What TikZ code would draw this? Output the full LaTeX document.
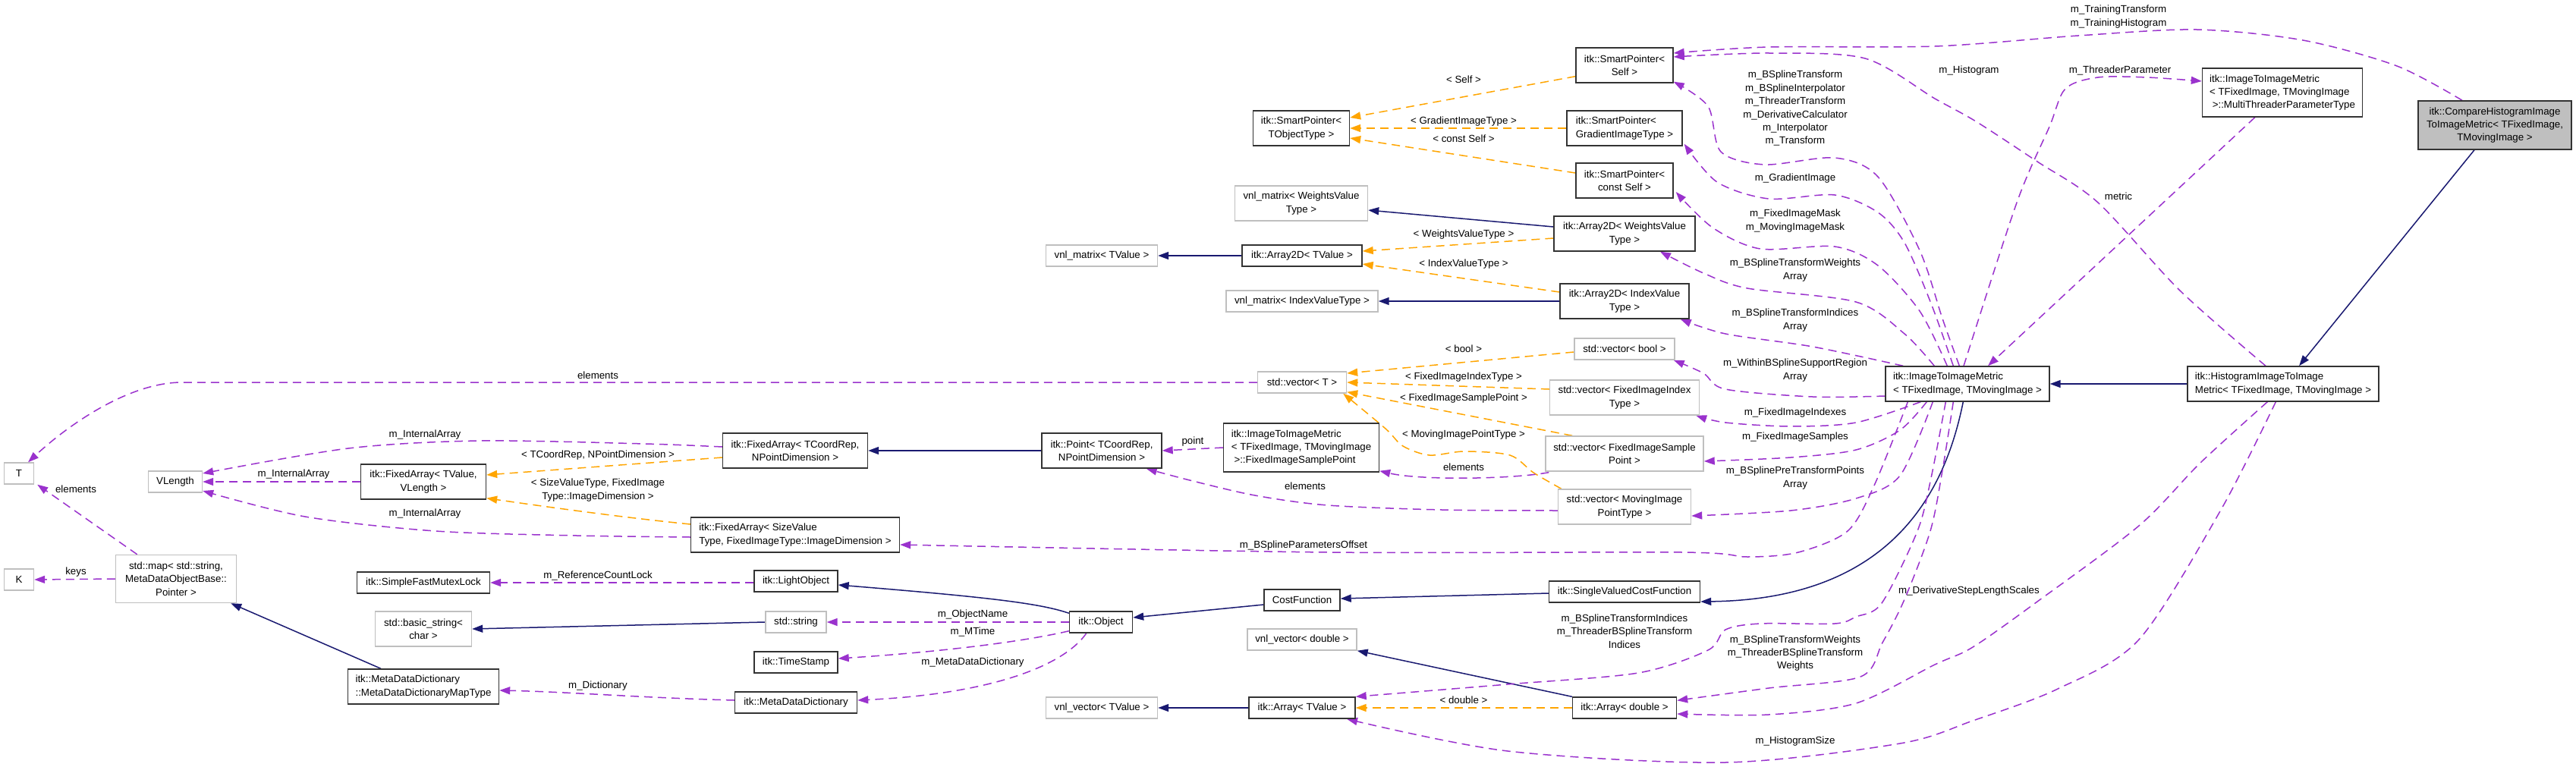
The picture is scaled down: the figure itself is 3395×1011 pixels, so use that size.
\documentclass[tikz,border=0pt]{standalone}
\usepackage{fontspec}
\setmainfont{Liberation Sans}
\usetikzlibrary{arrows.meta,calc,backgrounds}
\newcommand\dfont{\fontsize{13.3pt}{17.4pt}\selectfont}
\definecolor{purp}{HTML}{9A32CD}
\definecolor{orng}{HTML}{FFA500}
\definecolor{navy}{HTML}{191970}
\definecolor{gbord}{HTML}{BFBFBF}
\tikzset{
  box/.style={draw=black!80, line width=1.4pt, fill=white, inner sep=0pt, align=center, font=\dfont},
  gbox/.style={box, draw=gbord},
  lbox/.style={box, align=left},
  sz/.style 2 args={minimum width=#1pt, minimum height=#2pt},
  lab/.style={font=\dfont, inner sep=0pt, align=center},
  arrhead/.style={-{Triangle[length=14pt,width=10pt]}},
  inh/.style={draw=navy, line width=1.5pt, arrhead},
  use/.style={draw=purp, line width=1.5pt, dash pattern=on 11pt off 7pt, arrhead},
  tmpl/.style={draw=orng, line width=1.5pt, dash pattern=on 11pt off 7pt, arrhead},
}
\begin{document}
\begin{tikzpicture}[x=1pt,y=-1pt]
\useasboundingbox (0,0) rectangle (3395,1011);

% ---------------- nodes ----------------
\node[gbox, sz={39}{28}] (T) at (25,624) {T};
\node[gbox, sz={39}{28}] (K) at (25,764) {K};
\node[gbox, sz={71}{28}] (VL) at (231,635) {VLength};
\node[box, sz={165}{46}] (FAval) at (558,635) {itk::FixedArray< TValue,\\VLength >};
\node[gbox, sz={159}{63}] (map) at (232,763) {std::map< std::string,\\MetaDataObjectBase::\\Pointer >};
\node[box, sz={175}{28}] (mutex) at (558,768) {itk::SimpleFastMutexLock};
\node[gbox, sz={127}{46}] (bstr) at (558,829) {std::basic\_string<\\char >};
\node[lbox, sz={199}{46}] (mapT) at (558,905) {itk::MetaDataDictionary\\::MetaDataDictionaryMapType};
\node[box, sz={191}{46}] (FAcoord) at (1048,594) {itk::FixedArray< TCoordRep,\\NPointDimension >};
\node[lbox, sz={275}{46}] (FAsize) at (1048,705) {itk::FixedArray< SizeValue\\Type, FixedImageType::ImageDimension >};
\node[box, sz={110}{28}] (light) at (1049,766) {itk::LightObject};
\node[gbox, sz={80}{28}] (str) at (1049,820) {std::string};
\node[box, sz={110}{28}] (tstamp) at (1049,873) {itk::TimeStamp};
\node[box, sz={161}{28}] (mdd) at (1049,926) {itk::MetaDataDictionary};
\node[box, sz={83}{28}] (obj) at (1451,820) {itk::Object};
\node[box, sz={158}{46}] (point) at (1452,594) {itk::Point< TCoordRep,\\NPointDimension >};
\node[gbox, sz={147}{28}] (vmatT) at (1452,337) {vnl\_matrix< TValue >};
\node[gbox, sz={147}{28}] (vvecT) at (1452,933) {vnl\_vector< TValue >};
\node[box, sz={127}{46}] (spT) at (1715,169) {itk::SmartPointer<\\TObjectType >};
\node[gbox, sz={175}{46}] (vmatW) at (1715,268) {vnl\_matrix< WeightsValue\\Type >};
\node[box, sz={158}{28}] (a2dT) at (1716,337) {itk::Array2D< TValue >};
\node[gbox, sz={200}{28}] (vmatI) at (1716,397) {vnl\_matrix< IndexValueType >};
\node[gbox, sz={117}{28}] (vecT) at (1716,504) {std::vector< T >};
\node[lbox, sz={205}{64}] (fisp) at (1715,590) {itk::ImageToImageMetric\\< TFixedImage, TMovingImage\\\ >::FixedImageSamplePoint};
\node[box, sz={100}{28}] (costf) at (1716,791) {CostFunction};
\node[gbox, sz={144}{28}] (vvecD) at (1716,843) {vnl\_vector< double >};
\node[box, sz={140}{28}] (arrT) at (1716,933) {itk::Array< TValue >};
\node[box, sz={128}{46}] (spSelf) at (2141,86) {itk::SmartPointer<\\Self >};
\node[lbox, sz={152}{46}] (spGrad) at (2141,169) {itk::SmartPointer<\\GradientImageType >};
\node[box, sz={128}{46}] (spConst) at (2141,238) {itk::SmartPointer<\\const Self >};
\node[box, sz={186}{46}] (a2dW) at (2141,308) {itk::Array2D< WeightsValue\\Type >};
\node[box, sz={170}{46}] (a2dI) at (2141,397) {itk::Array2D< IndexValue\\Type >};
\node[gbox, sz={132}{28}] (vbool) at (2141,460) {std::vector< bool >};
\node[gbox, sz={197}{46}] (vfii) at (2141,524) {std::vector< FixedImageIndex\\Type >};
\node[gbox, sz={208}{46}] (vfisp) at (2141,598) {std::vector< FixedImageSample\\Point >};
\node[gbox, sz={175}{46}] (vmipt) at (2141,668) {std::vector< MovingImage\\PointType >};
\node[box, sz={199}{28}] (svcf) at (2141,780) {itk::SingleValuedCostFunction};
\node[box, sz={137}{28}] (arrD) at (2141,933) {itk::Array< double >};
\node[lbox, sz={216}{46}] (itim) at (2593,506) {itk::ImageToImageMetric\\< TFixedImage, TMovingImage >};
\node[lbox, sz={211}{64}] (mtpt) at (3008,122) {itk::ImageToImageMetric\\< TFixedImage, TMovingImage\\\ >::MultiThreaderParameterType};
\node[lbox, sz={252}{46}] (hist) at (3009,506) {itk::HistogramImageToImage\\Metric< TFixedImage, TMovingImage >};
\node[box, fill=gbord, sz={202}{64}] (cmp) at (3288,165) {itk::CompareHistogramImage\\ToImageMetric< TFixedImage,\\TMovingImage >};

% ---------------- labels ----------------
\node[lab] (l1) at (788,495) {elements};
\node[lab] (l2) at (100,645) {elements};
\node[lab] (l3) at (100,754) {keys};
\node[lab] (l4) at (560,573) {m\_InternalArray};
\node[lab] (l5) at (387,625) {m\_InternalArray};
\node[lab] (l6) at (560,677) {m\_InternalArray};
\node[lab] (l7) at (788,600) {< TCoordRep, NPointDimension >};
\node[lab] (l8) at (788,646) {< SizeValueType, FixedImage\\Type::ImageDimension >};
\node[lab] (l9) at (788,759) {m\_ReferenceCountLock};
\node[lab] (l10) at (788,904) {m\_Dictionary};
\node[lab] (l11) at (1282,810) {m\_ObjectName};
\node[lab] (l12) at (1282,833) {m\_MTime};
\node[lab] (l13) at (1282,873) {m\_MetaDataDictionary};
\node[lab] (l14) at (1572,582) {point};
\node[lab] (l15) at (1720,641) {elements};
\node[lab] (l16) at (1718,719) {m\_BSplineParametersOffset};
\node[lab] (l17) at (1929,105) {< Self >};
\node[lab] (l18) at (1929,160) {< GradientImageType >};
\node[lab] (l19) at (1929,183) {< const Self >};
\node[lab] (l20) at (1929,309) {< WeightsValueType >};
\node[lab] (l21) at (1929,348) {< IndexValueType >};
\node[lab] (l22) at (1929,460) {< bool >};
\node[lab] (l23) at (1929,497) {< FixedImageIndexType >};
\node[lab] (l24) at (1929,525) {< FixedImageSamplePoint >};
\node[lab] (l25) at (1929,573) {< MovingImagePointType >};
\node[lab] (l26) at (1929,616) {elements};
\node[lab] (l27) at (1929,923) {< double >};
\node[lab] (l28) at (2366,143) {m\_BSplineTransform\\m\_BSplineInterpolator\\m\_ThreaderTransform\\m\_DerivativeCalculator\\m\_Interpolator\\m\_Transform};
\node[lab] (l29) at (2366,235) {m\_GradientImage};
\node[lab] (l30) at (2366,291) {m\_FixedImageMask\\m\_MovingImageMask};
\node[lab] (l31) at (2366,356) {m\_BSplineTransformWeights\\Array};
\node[lab] (l32) at (2366,422) {m\_BSplineTransformIndices\\Array};
\node[lab] (l33) at (2366,488) {m\_WithinBSplineSupportRegion\\Array};
\node[lab] (l34) at (2366,544) {m\_FixedImageIndexes};
\node[lab] (l35) at (2366,576) {m\_FixedImageSamples};
\node[lab] (l36) at (2366,630) {m\_BSplinePreTransformPoints\\Array};
\node[lab] (l37) at (2141,832) {m\_BSplineTransformIndices\\m\_ThreaderBSplineTransform\\Indices};
\node[lab] (l38) at (2366,861) {m\_BSplineTransformWeights\\m\_ThreaderBSplineTransform\\Weights};
\node[lab] (l39) at (2595,779) {m\_DerivativeStepLengthScales};
\node[lab] (l40) at (2366,977) {m\_HistogramSize};
\node[lab] (l41) at (2792,22) {m\_TrainingTransform\\m\_TrainingHistogram};
\node[lab] (l42) at (2595,93) {m\_Histogram};
\node[lab] (l43) at (2794,93) {m\_ThreaderParameter};
\node[lab] (l44) at (2792,259) {metric};

% ---------------- edges ----------------
\begin{pgfonlayer}{background}
% inheritance
\draw[inh] ($(mapT.north)+(-56,0)$) -- ($(map.south east)+(-8,0)$);
\draw[inh] (str.west) -- (bstr.east);
\draw[inh] (point.west) -- (FAcoord.east);
\draw[inh] ($(obj.north west)+(0,3)$) .. controls (1370,795) and (1300,787) .. ($(light.east)+(0,5)$);
\draw[inh] ($(costf.west)+(0,6)$) -- ($(obj.east)+(0,-6)$);
\draw[inh] (a2dT.west) -- (vmatT.east);
\draw[inh] (arrT.west) -- (vvecT.east);
\draw[inh] ($(a2dW.west)+(0,-9)$) -- ($(vmatW.east)+(0,9)$);
\draw[inh] (a2dI.west) -- (vmatI.east);
\draw[inh] ($(svcf.west)+(0,2)$) -- ($(costf.east)+(0,-2)$);
\draw[inh] (arrD.north west) -- (vvecD.south east);
\draw[inh] ($(itim.south west)+(103,0)$) .. controls (2565,640) and (2500,790) .. ($(svcf.east)+(0,13)$);
\draw[inh] (hist.west) -- (itim.east);
\draw[inh] ($(cmp.south)+(-27,0)$) -- ($(hist.north)+(21,0)$);
% template instantiations
\draw[tmpl] ($(FAcoord.west)+(0,9)$) -- ($(FAval.east)+(0,-9)$);
\draw[tmpl] ($(FAsize.west)+(0,-14)$) .. controls (820,682) and (720,668) .. ($(FAval.south east)+(0,-2)$);
\draw[tmpl] ($(spSelf.south west)+(0,-9)$) -- ($(spT.east)+(0,-14)$);
\draw[tmpl] (spGrad.west) -- (spT.east);
\draw[tmpl] ($(spConst.west)+(0,-10)$) -- ($(spT.east)+(0,13)$);
\draw[tmpl] ($(a2dW.west)+(0,6)$) -- ($(a2dT.east)+(0,-6)$);
\draw[tmpl] ($(a2dI.west)+(0,-12)$) -- ($(a2dT.east)+(0,11)$);
\draw[tmpl] ($(vbool.west)+(0,4)$) -- ($(vecT.east)+(0,-12)$);
\draw[tmpl] ($(vfii.west)+(0,-11)$) -- (vecT.east);
\draw[tmpl] ($(vfisp.north west)+(36,0)$) -- ($(vecT.south east)+(0,-2)$);
\draw[tmpl] plot[smooth] coordinates {($(vmipt.north west)+(5,0)$) (2021,623) (1990,600) (1930,595) (1884,600) (1849,588) (1826,565) ($(vecT.south east)+(-5,0)$)};
\draw[tmpl] (arrD.west) -- (arrT.east);
% usage
\draw[use] (vecT.west) -- (240,504) .. controls (170,504) and (90,560) .. ($(T.north)+(12,0)$);
\draw[use] ($(map.north west)+(29,0)$) -- ($(T.south east)+(4,0)$);
\draw[use] (map.west) -- (K.east);
\draw[use] plot[smooth] coordinates {($(FAcoord.west)+(0,-5)$) (850,585) (632,581) (459,591) ($(VL.east)+(0,-11)$)};
\draw[use] (FAval.west) -- (VL.east);
\draw[use] plot[smooth] coordinates {($(FAsize.west)+(0,3)$) (760,706) (574,700) (402,681) ($(VL.east)+(0,12)$)};
\draw[use] ($(light.west)+(0,2)$) -- (mutex.east);
\draw[use] ($(mdd.west)+(0,-3)$) .. controls (850,920) and (750,912) .. ($(mapT.east)+(0,5)$);
\draw[use] (obj.west) -- (str.east);
\draw[use] ($(obj.south west)+(0,-3)$) .. controls (1330,850) and (1200,862) .. ($(tstamp.east)+(0,-5)$);
\draw[use] ($(obj.south west)+(23,0)$) .. controls (1400,880) and (1300,915) .. ($(mdd.east)+(0,-3)$);
\draw[use] (fisp.west) -- (point.east);
\draw[use] plot[smooth] coordinates {($(vmipt.west)+(0,5)$) (1900,672) (1750,666) (1654,653) (1568,633) ($(point.south east)+(-21,0)$)};
\draw[use] plot[smooth] coordinates {($(itim.south west)+(30,0)$) (2470,640) (2435,700) (2370,728) (2303,734) (2217,728) (1750,728) ($(FAsize.east)+(0,13)$)};
\draw[use] plot[smooth] coordinates {($(cmp.north)+(-43,0)$) (3159,87) (3035,53) (2895,39) (2739,47) (2550,61) (2331,62) ($(spSelf.east)+(0,-16)$)};
\draw[use] plot[smooth] coordinates {($(hist.north)+(-23,0)$) (2873,383) (2765,267) (2685,213) (2604,160) (2550,130) (2458,77) (2331,70) ($(spSelf.east)+(0,-11)$)};
\draw[use] plot[smooth] coordinates {($(itim.north west)+(98,0)$) (2560,420) (2530,330) (2475,233) (2418,208) (2326,217) (2268,200) (2251,140) ($(spSelf.south east)+(0,-2)$)};
\draw[use] plot[smooth] coordinates {($(itim.north west)+(90,0)$) (2545,400) (2510,320) (2475,280) (2418,257) (2331,262) (2263,240) ($(spGrad.south east)+(2,-3)$)};
\draw[use] plot[smooth] coordinates {($(itim.north west)+(82,0)$) (2530,410) (2475,350) (2418,325) (2320,328) (2257,300) ($(spConst.east)+(3,15)$)};
\draw[use] plot[smooth] coordinates {($(itim.north west)+(65,0)$) (2510,440) (2446,398) (2303,380) (2245,360) ($(a2dW.south)+(47,0)$)};
\draw[use] plot[smooth] coordinates {($(itim.north west)+(24,0)$) (2389,457) (2274,440) ($(a2dI.south east)+(-12,0)$)};
\draw[use] plot[smooth] coordinates {($(itim.west)+(0,16)$) (2389,523) (2274,513) (2245,492) ($(vbool.south east)+(-2,0)$)};
\draw[use] plot[smooth] coordinates {($(itim.south west)+(47,0)$) (2446,557) (2360,562) (2274,557) ($(vfii.south east)+(-5,0)$)};
\draw[use] plot[smooth] coordinates {($(itim.south west)+(55,0)$) (2504,567) (2446,593) (2360,603) ($(vfisp.east)+(0,10)$)};
\draw[use] plot[smooth] coordinates {($(itim.south west)+(63,0)$) (2504,627) (2446,657) (2360,673) ($(vmipt.east)+(0,12)$)};
\draw[use] ($(vfisp.south west)+(5,1)$) .. controls (1990,632) and (1870,633) .. ($(fisp.south east)+(0,-2)$);
\draw[use] plot[smooth] coordinates {($(itim.south west)+(80,0)$) (2545,630) (2527,700) (2480,795) (2446,813) (2418,822) (2320,822) (2274,830) (2251,857) (2159,887) (1987,902) (arrT.north east)};
\draw[use] plot[smooth] coordinates {($(itim.south west)+(90,0)$) (2560,620) (2544,700) (2510,790) (2481,847) (2452,892) (2331,907) ($(arrD.north east)+(0,5)$)};
\draw[use] plot[smooth] coordinates {($(hist.south west)+(106,0)$) (2900,610) (2819,693) (2685,793) (2600,853) (2550,876) (2446,927) (2331,942) ($(arrD.east)+(0,8)$)};
\draw[use] plot[smooth] coordinates {($(hist.south west)+(117,0)$) (2927,672) (2819,843) (2712,908) (2600,950) (2504,980) (2274,1005) (1987,990) ($(arrT.south)+(59,0)$)};
\draw[use] plot[smooth] coordinates {($(itim.north)+(-5,0)$) (2658,267) (2701,167) (2722,117) (2765,102) (2830,102) ($(mtpt.west)+(0,-15)$)};
\draw[use] ($(mtpt.south west)+(70,0)$) -- ($(itim.north)+(27,0)$);
\end{pgfonlayer}
\end{tikzpicture}
\end{document}
